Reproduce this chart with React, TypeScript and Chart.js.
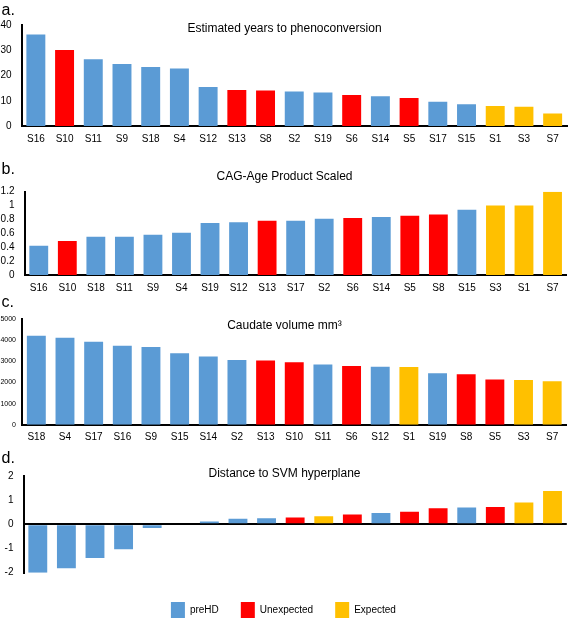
import React, { useEffect, useRef } from 'react';
import { Chart, registerables } from 'chart.js';

Chart.register(...registerables);

const FONT = '"Liberation Sans", Arial, Helvetica, sans-serif';
Chart.defaults.font.family = FONT;

// ---- data ----
const catsA = ['S16', 'S10', 'S11', 'S9', 'S18', 'S4', 'S12', 'S13', 'S8', 'S2', 'S19', 'S6', 'S14', 'S5', 'S17', 'S15', 'S1', 'S3', 'S7'];
const valsA = [36.2, 30.1, 26.4, 24.6, 23.4, 22.8, 15.4, 14.3, 14.1, 13.7, 13.3, 12.3, 11.8, 11.1, 9.6, 8.6, 7.9, 7.6, 5.0];

const catsB = ['S16', 'S10', 'S18', 'S11', 'S9', 'S4', 'S19', 'S12', 'S13', 'S17', 'S2', 'S6', 'S14', 'S5', 'S8', 'S15', 'S3', 'S1', 'S7'];
const valsB = [0.42, 0.49, 0.55, 0.55, 0.58, 0.61, 0.75, 0.76, 0.78, 0.78, 0.81, 0.82, 0.835, 0.855, 0.87, 0.94, 1.0, 1.0, 1.2];

const catsC = ['S18', 'S4', 'S17', 'S16', 'S9', 'S15', 'S14', 'S2', 'S13', 'S10', 'S11', 'S6', 'S12', 'S1', 'S19', 'S8', 'S5', 'S3', 'S7'];
const valsC = [4220, 4130, 3940, 3740, 3690, 3390, 3230, 3070, 3050, 2960, 2850, 2790, 2750, 2740, 2440, 2390, 2150, 2120, 2060];

const catsD = ['S18', 'S15', 'S4', 'S17', 'S12', 'S9', 'S16', 'S2', 'S11', 'S6', 'S1', 'S13', 'S14', 'S10', 'S5', 'S19', 'S8', 'S3', 'S7'];
const valsD = [-2.0, -1.82, -1.39, -1.03, -0.15, 0.0, 0.12, 0.23, 0.25, 0.28, 0.34, 0.41, 0.47, 0.52, 0.67, 0.70, 0.72, 0.90, 1.38];

const unexpectedSubjects = ['S5', 'S6', 'S8', 'S10', 'S13'];
const expectedSubjects = ['S1', 'S3', 'S7'];
const groupNames = ['preHD', 'Unexpected', 'Expected'];
const groupColors = ['#5B9BD5', '#FF0000', '#FFC000'];

function colorFor(s: string) {
  if (unexpectedSubjects.includes(s)) return groupColors[1];
  if (expectedSubjects.includes(s)) return groupColors[2];
  return groupColors[0];
}

const PAGE_W = 568;

type PanelCfg = {
  letter: string;
  title: string;
  cats: string[];
  vals: number[];
  min: number;
  max: number;
  step: number;
  fmt: (v: number) => string;
  canvasTop: number;
  canvasH: number;
  areaTop: number;
  areaBottom: number;
  areaLeft: number;
  areaRight: number;
  yPad: number;
  xPad: number;
  yFont: number;
  letterY: number;
  titleY: number;
  legend?: boolean;
  zeroLine?: boolean;
};

const panels: PanelCfg[] = [
  {
    letter: 'a.', title: 'Estimated years to phenoconversion', cats: catsA, vals: valsA,
    min: 0, max: 40, step: 10, fmt: (v) => String(v),
    canvasTop: 0, canvasH: 152, areaTop: 25, areaBottom: 126, areaLeft: 21.5, areaRight: 567,
    yPad: 10, xPad: 7.5, yFont: 10, letterY: 15, titleY: 32,
  },
  {
    letter: 'b.', title: 'CAG-Age Product Scaled', cats: catsB, vals: valsB,
    min: 0, max: 1.2, step: 0.2, fmt: (v) => String(Math.round(v * 10) / 10),
    canvasTop: 150, canvasH: 150, areaTop: 191.7, areaBottom: 275, areaLeft: 24.5, areaRight: 566.8,
    yPad: 10, xPad: 7.5, yFont: 10, letterY: 174, titleY: 180.3,
  },
  {
    letter: 'c.', title: 'Caudate volume mm\u00B3', cats: catsC, vals: valsC,
    min: 0, max: 5000, step: 1000, fmt: (v) => String(v),
    canvasTop: 290, canvasH: 160, areaTop: 319.3, areaBottom: 424.7, areaLeft: 22, areaRight: 566.5,
    yPad: 6, xPad: 6.3, yFont: 7, letterY: 306.7, titleY: 329.3,
  },
  {
    letter: 'd.', title: 'Distance to SVM hyperplane', cats: catsD, vals: valsD,
    min: -2, max: 2, step: 1, fmt: (v) => String(v),
    canvasTop: 446, canvasH: 182, areaTop: 476, areaBottom: 572.7, areaLeft: 23.5, areaRight: 566.8,
    yPad: 10, xPad: 6.8, yFont: 10, letterY: 463, titleY: 477, legend: true, zeroLine: true,
  },
];

function BarPanel({ cfg }: { cfg: PanelCfg }) {
  const ref = useRef<HTMLCanvasElement>(null);
  useEffect(() => {
    const canvas = ref.current;
    if (!canvas) return;
    const localTop = cfg.areaTop - cfg.canvasTop;
    const localBottom = cfg.areaBottom - cfg.canvasTop;
    const textPlugin = {
      id: 'panelText',
      afterDraw(chart: any) {
        const ctx = chart.ctx;
        ctx.save();
        ctx.fillStyle = '#000';
        ctx.textBaseline = 'alphabetic';
        ctx.textAlign = 'left';
        ctx.font = `16px ${FONT}`;
        ctx.fillText(cfg.letter, 1.5, cfg.letterY - cfg.canvasTop);
        ctx.font = `12px ${FONT}`;
        ctx.textAlign = 'center';
        ctx.fillText(cfg.title, 284.5, cfg.titleY - cfg.canvasTop);
        ctx.restore();
      },
    };
    const chart = new Chart(canvas, {
      type: 'bar',
      data: {
        labels: cfg.cats,
        datasets: [
          {
            data: cfg.vals,
            backgroundColor: cfg.cats.map(colorFor),
            borderWidth: 0,
            barPercentage: 0.66,
            categoryPercentage: 1,
          },
        ],
      },
      options: {
        responsive: false,
        animation: false,
        devicePixelRatio: 1,
        layout: { padding: { top: localTop, left: 0, right: PAGE_W - cfg.areaRight, bottom: 0 } },
        plugins: {
          title: { display: false },
          tooltip: { enabled: false },
          legend: cfg.legend
            ? {
                display: true,
                position: 'bottom',
                align: 'center',
                onClick: () => {},
                labels: {
                  boxWidth: 14,
                  boxHeight: 16,
                  padding: 22,
                  color: '#000',
                  font: { size: 10, family: FONT },
                  generateLabels: () =>
                    groupNames.map((n, i) => ({
                      text: n,
                      fillStyle: groupColors[i],
                      strokeStyle: groupColors[i],
                      lineWidth: 0,
                      hidden: false,
                      datasetIndex: 0,
                    })),
                },
              }
            : { display: false },
        },
        scales: {
          x: {
            grid: { display: false, drawTicks: false },
            border: cfg.zeroLine ? { display: false } : { display: true, color: '#000', width: 2 },
            ticks: {
              color: '#000',
              font: { size: 10, family: FONT },
              padding: cfg.xPad,
              autoSkip: false,
              maxRotation: 0,
              minRotation: 0,
            },
            afterFit: (s: any) => {
              const lh = s.chart.legend ? s.chart.legend.height : 0;
              s.height = cfg.canvasH - localBottom - lh;
            },
          },
          y: {
            min: cfg.min,
            max: cfg.max,
            ticks: {
              stepSize: cfg.step,
              color: '#000',
              font: { size: cfg.yFont, family: FONT },
              padding: cfg.yPad,
              autoSkip: false,
              callback: (v: any) => cfg.fmt(Number(v)),
            },
            grid: cfg.zeroLine
              ? {
                  display: true,
                  drawTicks: false,
                  lineWidth: 2,
                  color: (c: any) => (c.tick && c.tick.value === 0 ? '#000' : 'rgba(0,0,0,0)'),
                }
              : { display: false, drawTicks: false },
            border: { display: true, color: '#000', width: 2 },
            afterFit: (s: any) => {
              s.width = cfg.areaLeft;
            },
          },
        },
      } as any,
      plugins: [textPlugin],
    });
    return () => chart.destroy();
  }, [cfg]);
  return (
    <canvas
      ref={ref}
      width={PAGE_W}
      height={cfg.canvasH}
      style={{ position: 'absolute', left: 0, top: cfg.canvasTop, display: 'block' }}
    />
  );
}

export default function App() {
  return (
    <div
      style={{
        position: 'absolute',
        left: 0,
        top: 0,
        width: PAGE_W,
        height: 620,
        overflow: 'hidden',
        background: '#fff',
      }}
    >
      {panels.map((p) => (
        <BarPanel key={p.letter} cfg={p} />
      ))}
    </div>
  );
}
